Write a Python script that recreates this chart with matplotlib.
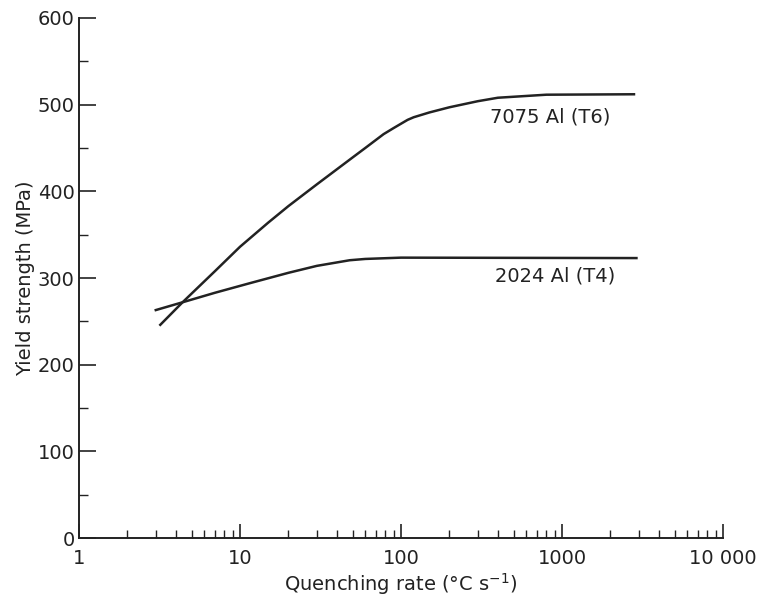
import matplotlib.pyplot as plt
from matplotlib.ticker import FixedLocator, MultipleLocator, NullFormatter

# Data
rate_7075 = [3.2, 4.4, 7, 10, 15, 20, 30, 50, 60, 78, 90, 100, 110, 120,
             150, 200, 300, 400, 800, 2800]
ys_7075 = [246, 272, 308, 336, 364, 383, 408, 439, 450, 466, 473, 478, 482.5, 485.5,
           491, 497, 504, 508, 511.5, 512]

rate_2024 = [3, 4.4, 7, 11.5, 20, 30, 48, 60, 100, 2900]
ys_2024 = [263, 272, 283, 294, 306, 314, 320.5, 322, 323.5, 323]

x_ticks = [1, 10, 100, 1000, 10000]
x_tick_labels = ["1", "10", "100", "1000", "10 000"]

ink = "#222222"
plt.rcParams['font.family'] = 'DejaVu Sans'

fig = plt.figure(figsize=(7.6, 5.98), dpi=100)
ax = fig.add_axes([0.1039, 0.1003, 0.8474, 0.8696])

ax.plot(rate_7075, ys_7075, color=ink, lw=1.8, solid_joinstyle="round")
ax.plot(rate_2024, ys_2024, color=ink, lw=1.8, solid_joinstyle="round")

ax.text(356, 486, "7075 Al (T6)", ha="left", va="center", fontsize=14, color=ink)
ax.text(384, 302, "2024 Al (T4)", ha="left", va="center", fontsize=14, color=ink)

ax.set_xscale("log")
ax.set_xlim(1, 10000)
ax.set_ylim(0, 600)

ax.xaxis.set_major_locator(FixedLocator(x_ticks))
ax.set_xticklabels(x_tick_labels)
ax.xaxis.set_minor_locator(FixedLocator(
    [m * 10 ** d for d in range(4) for m in range(2, 10)]))
ax.xaxis.set_minor_formatter(NullFormatter())
ax.yaxis.set_major_locator(MultipleLocator(100))
ax.yaxis.set_minor_locator(MultipleLocator(50))

for s in ["top", "right"]:
    ax.spines[s].set_visible(False)
for s in ["left", "bottom"]:
    ax.spines[s].set_linewidth(1.4)
    ax.spines[s].set_color(ink)

ax.tick_params(axis="x", which="major", direction="in", length=10, width=1.2,
               pad=8, labelsize=14, colors=ink)
ax.tick_params(axis="x", which="minor", direction="in", length=5.5, width=1.0, colors=ink)
ax.tick_params(axis="y", which="major", direction="in", length=12, width=1.2,
               pad=3, labelsize=14, colors=ink)
ax.tick_params(axis="y", which="minor", direction="in", length=6.5, width=1.0, colors=ink)

ax.set_xlabel(r"Quenching rate (°C s$^{-1}$)", fontsize=14, color=ink, labelpad=2)
ax.set_ylabel("Yield strength (MPa)", fontsize=14, color=ink, labelpad=2)

fig.savefig("out.png", dpi=100, facecolor="white")
